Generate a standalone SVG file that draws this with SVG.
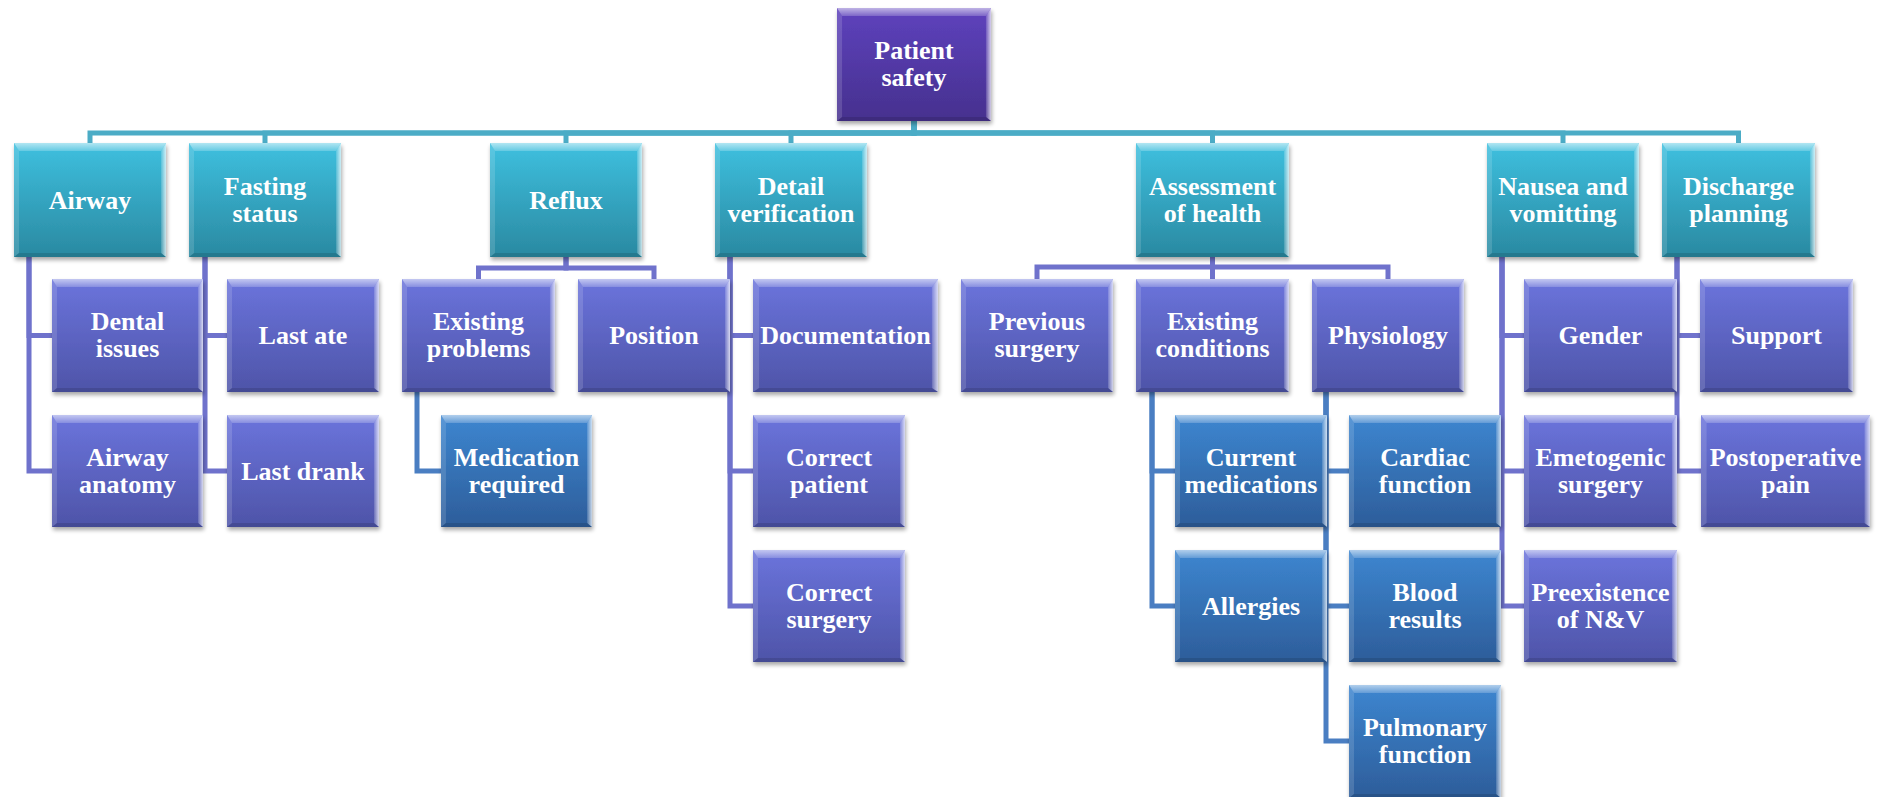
<svg xmlns="http://www.w3.org/2000/svg" xmlns:xlink="http://www.w3.org/1999/xlink" width="1878" height="797" viewBox="0 0 1878 797">
<defs>
<linearGradient id="gRoot" x1="0" y1="0" x2="0" y2="1"><stop offset="0" stop-color="#5e42bd"/><stop offset="1" stop-color="#46308e"/></linearGradient>
<linearGradient id="gTeal" x1="0" y1="0" x2="0" y2="1"><stop offset="0" stop-color="#3ec0df"/><stop offset="1" stop-color="#2a89a1"/></linearGradient>
<linearGradient id="gPurple" x1="0" y1="0" x2="0" y2="1"><stop offset="0" stop-color="#6b74dc"/><stop offset="1" stop-color="#4e54a8"/></linearGradient>
<linearGradient id="gBlue" x1="0" y1="0" x2="0" y2="1"><stop offset="0" stop-color="#3d86d0"/><stop offset="1" stop-color="#2d5d9a"/></linearGradient>
<linearGradient id="bevTop" x1="0" y1="0" x2="0" y2="1"><stop offset="0" stop-color="#ffffff" stop-opacity="0.6"/><stop offset="1" stop-color="#ffffff" stop-opacity="0.2"/></linearGradient>
<linearGradient id="bevRight" x1="0" y1="0" x2="1" y2="0"><stop offset="0" stop-color="#ffffff" stop-opacity="0.15"/><stop offset="1" stop-color="#ffffff" stop-opacity="0.75"/></linearGradient>
<filter id="shadow" x="-10%" y="-10%" width="125%" height="130%">
<feGaussianBlur in="SourceAlpha" stdDeviation="2"/>
<feOffset dx="1" dy="3" result="b"/>
<feComponentTransfer><feFuncA type="linear" slope="0.35"/></feComponentTransfer>
<feMerge><feMergeNode/><feMergeNode in="SourceGraphic"/></feMerge>
</filter>
<symbol id="bev" viewBox="0 0 152 113" preserveAspectRatio="none">
<polygon points="0,0 152,0 147,8 5,8" fill="url(#bevTop)"/>
<polygon points="0,0 5,8 5,109 0,113" fill="#ffffff" fill-opacity="0.14"/>
<polygon points="152,0 152,113 147,109 147,8" fill="url(#bevRight)"/>
<polygon points="0,113 5,109 147,109 152,113" fill="#000000" fill-opacity="0.12"/>
</symbol>
</defs>
<style>
.root{fill:url(#gRoot);filter:url(#shadow)}
.teal{fill:url(#gTeal);filter:url(#shadow)}
.pur{fill:url(#gPurple);filter:url(#shadow)}
.blu{fill:url(#gBlue);filter:url(#shadow)}
text{font-family:"Liberation Serif","Times New Roman",serif;font-weight:bold;font-size:26px;fill:#ffffff;text-anchor:middle}
.c0{fill:none;stroke:#4bacc6;stroke-width:5}
.c1{fill:none;stroke:#6f72cc;stroke-width:5}
.c2{fill:none;stroke:#4a7ec2;stroke-width:5}
</style>
<rect width="1878" height="797" fill="#ffffff"/>
<g id="connectors">
<path class="c0" d="M914,121 V133 H90 V143"/>
<path class="c0" d="M914,121 V133 H265 V143"/>
<path class="c0" d="M914,121 V133 H566 V143"/>
<path class="c0" d="M914,121 V133 H791 V143"/>
<path class="c0" d="M914,121 V133 H1212.5 V143"/>
<path class="c0" d="M914,121 V133 H1563 V143"/>
<path class="c0" d="M914,121 V133 H1738.5 V143"/>
<path class="c1" d="M29,257 V335.5 H52"/>
<path class="c1" d="M29,257 V471 H52"/>
<path class="c1" d="M205,257 V335.5 H227"/>
<path class="c1" d="M205,257 V471 H227"/>
<path class="c1" d="M566,257 V268 H478.5 V279"/>
<path class="c1" d="M566,257 V268 H654 V279"/>
<path class="c2" d="M417,392 V471 H441"/>
<path class="c1" d="M730,257 V335.5 H753"/>
<path class="c1" d="M730,257 V471 H753"/>
<path class="c1" d="M730,257 V606 H753"/>
<path class="c1" d="M1212.5,257 V267 H1037 V279"/>
<path class="c1" d="M1212.5,257 V279"/>
<path class="c1" d="M1212.5,257 V267 H1388 V279"/>
<path class="c2" d="M1152,392 V471 H1175"/>
<path class="c2" d="M1152,392 V606 H1175"/>
<path class="c2" d="M1326,392 V471 H1349"/>
<path class="c2" d="M1326,392 V606 H1349"/>
<path class="c2" d="M1326,392 V741 H1349"/>
<path class="c1" d="M1502,257 V335.5 H1524"/>
<path class="c1" d="M1502,257 V471 H1524"/>
<path class="c1" d="M1502,257 V606 H1524"/>
<path class="c1" d="M1677,257 V335.5 H1700"/>
<path class="c1" d="M1677,257 V471 H1701"/>
</g>
<g id="n_root"><rect class="root" x="837" y="8" width="154" height="113"/><use href="#bev" x="837" y="8" width="154" height="113"/><text x="914" y="59">Patient</text><text x="914" y="86">safety</text></g>
<g id="n_airway"><rect class="teal" x="14" y="143" width="152" height="114"/><use href="#bev" x="14" y="143" width="152" height="114"/><text x="90" y="208.5">Airway</text></g>
<g id="n_fasting"><rect class="teal" x="189" y="143" width="152" height="114"/><use href="#bev" x="189" y="143" width="152" height="114"/><text x="265" y="194.5">Fasting</text><text x="265" y="221.5">status</text></g>
<g id="n_reflux"><rect class="teal" x="490" y="143" width="152" height="114"/><use href="#bev" x="490" y="143" width="152" height="114"/><text x="566" y="208.5">Reflux</text></g>
<g id="n_detail"><rect class="teal" x="715" y="143" width="152" height="114"/><use href="#bev" x="715" y="143" width="152" height="114"/><text x="791" y="194.5">Detail</text><text x="791" y="221.5">verification</text></g>
<g id="n_assess"><rect class="teal" x="1136" y="143" width="153" height="114"/><use href="#bev" x="1136" y="143" width="153" height="114"/><text x="1212.5" y="194.5">Assessment</text><text x="1212.5" y="221.5">of health</text></g>
<g id="n_nausea"><rect class="teal" x="1487" y="143" width="152" height="114"/><use href="#bev" x="1487" y="143" width="152" height="114"/><text x="1563" y="194.5">Nausea and</text><text x="1563" y="221.5">vomitting</text></g>
<g id="n_discharge"><rect class="teal" x="1662" y="143" width="153" height="114"/><use href="#bev" x="1662" y="143" width="153" height="114"/><text x="1738.5" y="194.5">Discharge</text><text x="1738.5" y="221.5">planning</text></g>
<g id="n_dental"><rect class="pur" x="52" y="279" width="151" height="113"/><use href="#bev" x="52" y="279" width="151" height="113"/><text x="127.5" y="330">Dental</text><text x="127.5" y="357">issues</text></g>
<g id="n_anatomy"><rect class="pur" x="52" y="415" width="151" height="112"/><use href="#bev" x="52" y="415" width="151" height="112"/><text x="127.5" y="465.5">Airway</text><text x="127.5" y="492.5">anatomy</text></g>
<g id="n_lastate"><rect class="pur" x="227" y="279" width="152" height="113"/><use href="#bev" x="227" y="279" width="152" height="113"/><text x="303" y="344">Last ate</text></g>
<g id="n_lastdrank"><rect class="pur" x="227" y="415" width="152" height="112"/><use href="#bev" x="227" y="415" width="152" height="112"/><text x="303" y="479.5">Last drank</text></g>
<g id="n_existprob"><rect class="pur" x="402" y="279" width="153" height="113"/><use href="#bev" x="402" y="279" width="153" height="113"/><text x="478.5" y="330">Existing</text><text x="478.5" y="357">problems</text></g>
<g id="n_medreq"><rect class="blu" x="441" y="415" width="151" height="112"/><use href="#bev" x="441" y="415" width="151" height="112"/><text x="516.5" y="465.5">Medication</text><text x="516.5" y="492.5">required</text></g>
<g id="n_position"><rect class="pur" x="578" y="279" width="152" height="113"/><use href="#bev" x="578" y="279" width="152" height="113"/><text x="654" y="344">Position</text></g>
<g id="n_doc"><rect class="pur" x="753" y="279" width="185" height="113"/><use href="#bev" x="753" y="279" width="185" height="113"/><text x="845.5" y="344">Documentation</text></g>
<g id="n_corpat"><rect class="pur" x="753" y="415" width="152" height="112"/><use href="#bev" x="753" y="415" width="152" height="112"/><text x="829" y="465.5">Correct</text><text x="829" y="492.5">patient</text></g>
<g id="n_corsurg"><rect class="pur" x="753" y="550" width="152" height="112"/><use href="#bev" x="753" y="550" width="152" height="112"/><text x="829" y="600.5">Correct</text><text x="829" y="627.5">surgery</text></g>
<g id="n_prevsurg"><rect class="pur" x="961" y="279" width="152" height="113"/><use href="#bev" x="961" y="279" width="152" height="113"/><text x="1037" y="330">Previous</text><text x="1037" y="357">surgery</text></g>
<g id="n_existcond"><rect class="pur" x="1136" y="279" width="153" height="113"/><use href="#bev" x="1136" y="279" width="153" height="113"/><text x="1212.5" y="330">Existing</text><text x="1212.5" y="357">conditions</text></g>
<g id="n_curmed"><rect class="blu" x="1175" y="415" width="152" height="112"/><use href="#bev" x="1175" y="415" width="152" height="112"/><text x="1251" y="465.5">Current</text><text x="1251" y="492.5">medications</text></g>
<g id="n_allergies"><rect class="blu" x="1175" y="550" width="152" height="112"/><use href="#bev" x="1175" y="550" width="152" height="112"/><text x="1251" y="614.5">Allergies</text></g>
<g id="n_physio"><rect class="pur" x="1312" y="279" width="152" height="113"/><use href="#bev" x="1312" y="279" width="152" height="113"/><text x="1388" y="344">Physiology</text></g>
<g id="n_cardiac"><rect class="blu" x="1349" y="415" width="152" height="112"/><use href="#bev" x="1349" y="415" width="152" height="112"/><text x="1425" y="465.5">Cardiac</text><text x="1425" y="492.5">function</text></g>
<g id="n_blood"><rect class="blu" x="1349" y="550" width="152" height="112"/><use href="#bev" x="1349" y="550" width="152" height="112"/><text x="1425" y="600.5">Blood</text><text x="1425" y="627.5">results</text></g>
<g id="n_pulm"><rect class="blu" x="1349" y="685" width="152" height="113"/><use href="#bev" x="1349" y="685" width="152" height="113"/><text x="1425" y="736">Pulmonary</text><text x="1425" y="763">function</text></g>
<g id="n_gender"><rect class="pur" x="1524" y="279" width="153" height="113"/><use href="#bev" x="1524" y="279" width="153" height="113"/><text x="1600.5" y="344">Gender</text></g>
<g id="n_emeto"><rect class="pur" x="1524" y="415" width="153" height="112"/><use href="#bev" x="1524" y="415" width="153" height="112"/><text x="1600.5" y="465.5">Emetogenic</text><text x="1600.5" y="492.5">surgery</text></g>
<g id="n_preex"><rect class="pur" x="1524" y="550" width="153" height="112"/><use href="#bev" x="1524" y="550" width="153" height="112"/><text x="1600.5" y="600.5">Preexistence</text><text x="1600.5" y="627.5">of N&amp;V</text></g>
<g id="n_support"><rect class="pur" x="1700" y="279" width="153" height="113"/><use href="#bev" x="1700" y="279" width="153" height="113"/><text x="1776.5" y="344">Support</text></g>
<g id="n_postop"><rect class="pur" x="1701" y="415" width="169" height="112"/><use href="#bev" x="1701" y="415" width="169" height="112"/><text x="1785.5" y="465.5">Postoperative</text><text x="1785.5" y="492.5">pain</text></g>
</svg>
